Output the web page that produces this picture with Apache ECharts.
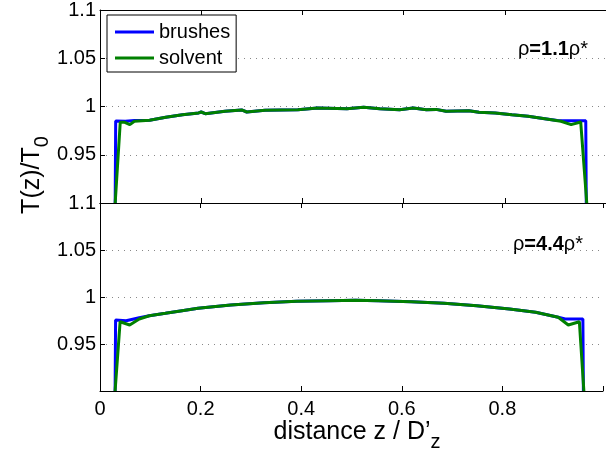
<!DOCTYPE html>
<html>
<head>
    <meta charset="utf-8">
    <title>T(z)/T0</title>
    <script src="https://cdn.jsdelivr.net/npm/echarts@6/dist/echarts.min.js"></script>
    <style>
        body { margin: 0; background: #fff; }
        #main { width: 606px; height: 460px; }
    </style>
</head>
<body>
    <div id="main"></div>
    <script type="text/javascript">
    // rho = 1.1 rho*  (top panel)
    var zTopBrush = [0.030, 0.031, 0.050, 0.068, 0.098, 0.130, 0.163, 0.195, 0.200, 0.208, 0.247, 0.280, 0.290, 0.326, 0.391, 0.430, 0.488, 0.521, 0.553, 0.592, 0.619, 0.645, 0.664, 0.684, 0.729, 0.749, 0.781, 0.814, 0.846, 0.879, 0.904, 0.930, 0.960, 0.961];
    var tTopBrush = [0.900, 0.9850, 0.9848, 0.9855, 0.9857, 0.9888, 0.9915, 0.9933, 0.9943, 0.9925, 0.9950, 0.9964, 0.9943, 0.9960, 0.9967, 0.9984, 0.9977, 0.9992, 0.9977, 0.9967, 0.9984, 0.9967, 0.9970, 0.9950, 0.9957, 0.9940, 0.9933, 0.9915, 0.9898, 0.9874, 0.9855, 0.9853, 0.9853, 0.900];
    var zTopSolv = [0.030, 0.040, 0.049, 0.059, 0.068, 0.098, 0.130, 0.163, 0.195, 0.200, 0.208, 0.247, 0.280, 0.290, 0.326, 0.391, 0.430, 0.488, 0.521, 0.553, 0.592, 0.619, 0.645, 0.664, 0.684, 0.729, 0.749, 0.781, 0.814, 0.846, 0.879, 0.911, 0.931, 0.950, 0.962];
    var tTopSolv = [0.900, 0.9836, 0.9836, 0.9812, 0.9847, 0.9857, 0.9888, 0.9915, 0.9933, 0.9943, 0.9925, 0.9950, 0.9964, 0.9943, 0.9960, 0.9967, 0.9984, 0.9977, 0.9992, 0.9977, 0.9967, 0.9984, 0.9967, 0.9970, 0.9950, 0.9957, 0.9940, 0.9933, 0.9915, 0.9898, 0.9874, 0.9847, 0.9812, 0.9840, 0.900];

    // rho = 4.4 rho*  (bottom panel)
    var zBotBrush = [0.030, 0.031, 0.052, 0.078, 0.098, 0.130, 0.163, 0.195, 0.260, 0.326, 0.391, 0.456, 0.508, 0.553, 0.619, 0.684, 0.749, 0.814, 0.866, 0.911, 0.925, 0.960, 0.961];
    var tBotBrush = [0.900, 0.9755, 0.9748, 0.9780, 0.9801, 0.9826, 0.9854, 0.9880, 0.9915, 0.9939, 0.9954, 0.9961, 0.9965, 0.9961, 0.9950, 0.9933, 0.9907, 0.9872, 0.9837, 0.9784, 0.9766, 0.9766, 0.900];
    var zBotSolv = [0.030, 0.040, 0.059, 0.078, 0.098, 0.130, 0.163, 0.195, 0.260, 0.326, 0.391, 0.456, 0.508, 0.553, 0.619, 0.684, 0.749, 0.814, 0.866, 0.911, 0.931, 0.953, 0.962];
    var tBotSolv = [0.900, 0.9737, 0.9702, 0.9766, 0.9801, 0.9826, 0.9854, 0.9880, 0.9915, 0.9939, 0.9954, 0.9961, 0.9965, 0.9961, 0.9950, 0.9933, 0.9907, 0.9872, 0.9837, 0.9784, 0.9702, 0.9737, 0.900];

    var seriesNames = ['brushes', 'solvent'];
    var panelLabels = ['1.1', '4.4'];

    function pairs(xs, ys) {
        var out = [];
        for (var i = 0; i < xs.length; i++) out.push([xs[i], ys[i]]);
        return out;
    }

    var FONT = 'Liberation Sans, Arial, Helvetica, sans-serif';
    var BLUE = '#0000ff';
    var GREEN = '#008000';

    function xAx(grid, pos, labels) {
        return {
            type: 'value', gridIndex: grid, position: pos,
            min: 0, max: 1, interval: 0.2,
            axisLine: { show: true, onZero: false, lineStyle: { color: '#000', width: 1 } },
            axisTick: { show: true, inside: true, length: 5, lineStyle: { color: '#000' } },
            axisLabel: {
                show: labels, margin: 8, color: '#000', fontFamily: FONT, fontSize: 20,
                formatter: function (v) { return v > 0.99 ? '' : String(parseFloat(v.toFixed(2))); }
            },
            splitLine: { show: false }
        };
    }
    function yAx(grid) {
        return {
            type: 'value', gridIndex: grid,
            min: 0.9, max: 1.1, interval: 0.05,
            axisLine: { show: true, lineStyle: { color: '#000', width: 1 } },
            axisTick: { show: true, inside: true, length: 5, lineStyle: { color: '#000' } },
            axisLabel: {
                margin: 4, color: '#000', fontFamily: FONT, fontSize: 20,
                formatter: function (v) { return v < 0.91 ? '' : String(parseFloat(v.toFixed(2))); }
            },
            splitLine: { show: true, lineStyle: { color: '#888', width: 1, type: [1, 5] } }
        };
    }
    function line(name, x, y, data, color) {
        return {
            name: name, type: 'line', xAxisIndex: x, yAxisIndex: y,
            data: data, symbol: 'none', animation: false,
            lineStyle: { color: color, width: 3 },
            itemStyle: { color: color }
        };
    }

    var myChart = echarts.init(document.getElementById('main'));
    var option = {
        backgroundColor: '#fff',
        animation: false,
        grid: [
            { left: 100, right: -6, top: 10, height: 193 },
            { left: 100, right: -6, top: 203, height: 188 }
        ],
        xAxis: [xAx(0, 'bottom', false), xAx(0, 'top', false), xAx(1, 'bottom', true), xAx(1, 'top', false)],
        yAxis: [yAx(0), yAx(1)],
        legend: {
            data: seriesNames,
            icon: 'rect',
            orient: 'vertical', left: 107, top: 15,
            padding: [7, 6, 4, 8], itemGap: 6, itemWidth: 39, itemHeight: 3,
            backgroundColor: '#fff', borderColor: '#000', borderWidth: 1, borderRadius: 0,
            textStyle: { color: '#000', fontFamily: FONT, fontSize: 20 }
        },
        series: [
            line(seriesNames[0], 0, 0, pairs(zTopBrush, tTopBrush), BLUE),
            line(seriesNames[1], 0, 0, pairs(zTopSolv, tTopSolv), GREEN),
            line(seriesNames[0], 2, 1, pairs(zBotBrush, tBotBrush), BLUE),
            line(seriesNames[1], 2, 1, pairs(zBotSolv, tBotSolv), GREEN)
        ],
        graphic: [
            {
                type: 'text', right: 18, top: 39,
                style: {
                    text: '{n|ρ}{b|=' + panelLabels[0] + '}{n|ρ*}',
                    rich: {
                        n: { fontFamily: FONT, fontSize: 20, fill: '#000' },
                        b: { fontFamily: FONT, fontSize: 20, fontWeight: 'bold', fill: '#000' }
                    }
                }
            },
            {
                type: 'text', right: 23, top: 234,
                style: {
                    text: '{n|ρ}{b|=' + panelLabels[1] + '}{n|ρ*}',
                    rich: {
                        n: { fontFamily: FONT, fontSize: 20, fill: '#000' },
                        b: { fontFamily: FONT, fontSize: 20, fontWeight: 'bold', fill: '#000' }
                    }
                }
            },
            {
                type: 'text', x: 32, y: 175, rotation: Math.PI / 2,
                style: {
                    text: '{m|T(z)/T}{s|0}',
                    align: 'center', verticalAlign: 'middle',
                    rich: {
                        m: { fontFamily: FONT, fontSize: 25, fill: '#000' },
                        s: { fontFamily: FONT, fontSize: 20, fill: '#000', verticalAlign: 'bottom', padding: [21, 0, 0, 0] }
                    }
                }
            },
            {
                type: 'text', x: 357, y: 432,
                style: {
                    text: '{m|distance z / D’}{s|z}',
                    align: 'center', verticalAlign: 'middle',
                    rich: {
                        m: { fontFamily: FONT, fontSize: 25, fill: '#000' },
                        s: { fontFamily: FONT, fontSize: 20, fill: '#000', verticalAlign: 'bottom', padding: [21, 0, 0, 0] }
                    }
                }
            }
        ]
    };
    myChart.setOption(option);
    </script>
</body>
</html>
